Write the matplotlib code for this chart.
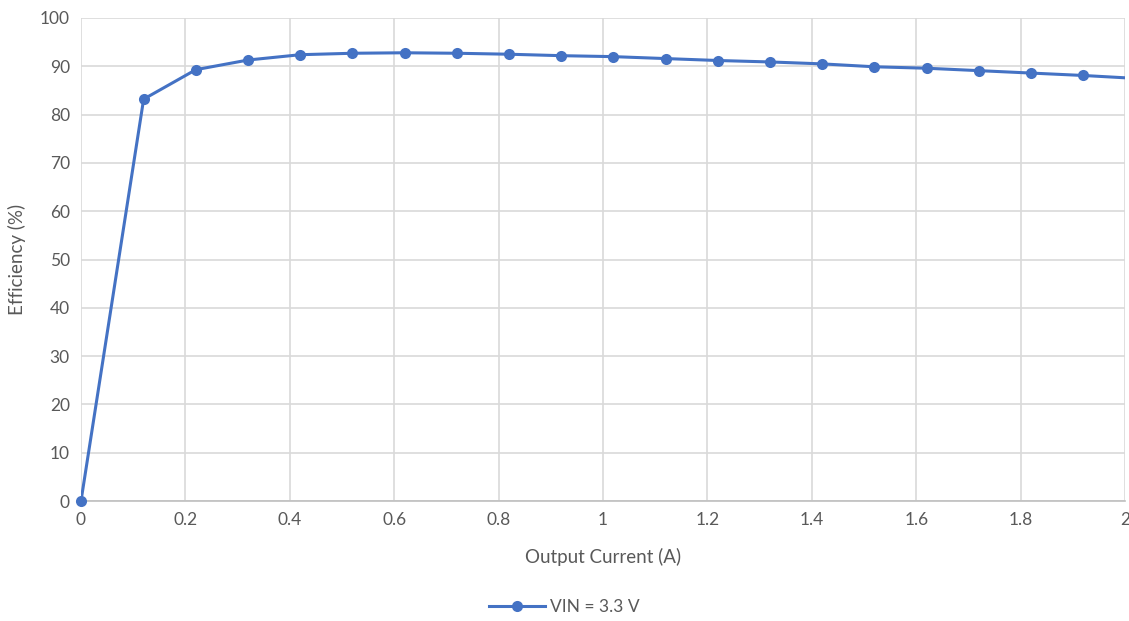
import matplotlib
matplotlib.use("Agg")
from matplotlib import pyplot as plt
from matplotlib.ticker import FuncFormatter

# efficiency vs load current, VIN = 3.3 V
current = [0, 0.12, 0.22, 0.32, 0.42, 0.52, 0.62, 0.72, 0.82, 0.92, 1.02,
           1.12, 1.22, 1.32, 1.42, 1.52, 1.62, 1.72, 1.82, 1.92, 2.02]
efficiency = [0, 83.2, 89.3, 91.3, 92.4, 92.7, 92.8, 92.7, 92.5, 92.2, 92.0,
              91.6, 91.2, 90.9, 90.5, 89.9, 89.6, 89.1, 88.6, 88.1, 87.5]
x_ticks = [0, 0.2, 0.4, 0.6, 0.8, 1.0, 1.2, 1.4, 1.6, 1.8, 2.0]
y_ticks = [0, 10, 20, 30, 40, 50, 60, 70, 80, 90, 100]
series_label = "VIN = 3.3 V"

plt.rcParams['font.family'] = ['Lato', 'DejaVu Sans']
text_col = '#595959'
grid_col = '#d9d9d9'
blue = '#4472C4'

fig = plt.figure(figsize=(11.29, 6.21), dpi=100)
ax = fig.add_axes([81 / 1129, 1 - 501 / 621, (1125 - 81) / 1129, (501 - 18) / 621])

# line clipped at the axis edge, markers only for points inside the range
ax.plot(current, efficiency, color=blue, lw=2.2, zorder=3)
inside = [(c, e) for c, e in zip(current, efficiency) if c <= 2]
ax.plot([c for c, _ in inside], [e for _, e in inside], ls='none', marker='o',
        ms=8, color=blue, markeredgewidth=0, clip_on=False, zorder=4)
handle, = ax.plot([], [], color=blue, lw=2.2, marker='o', ms=8,
                  markeredgewidth=0, label=series_label)

ax.set_xlim(0, 2)
ax.set_ylim(0, 100)
ax.set_xticks(x_ticks)
ax.set_yticks(y_ticks)
ax.xaxis.set_major_formatter(FuncFormatter(lambda v, p: f"{v:g}"))
ax.grid(True, color=grid_col, lw=1.2)
ax.set_axisbelow(True)
for s in ['left', 'right', 'top']:
    ax.spines[s].set_visible(False)
ax.spines['bottom'].set_color('#bfbfbf')
ax.spines['bottom'].set_linewidth(1.2)
ax.tick_params(length=0, colors=text_col, labelsize=12.5, pad=8)

ax.set_xlabel("Output Current (A)", color=text_col, fontsize=13.5, labelpad=14)
ax.set_ylabel("Efficiency (%)", color=text_col, fontsize=13.5, labelpad=10)

fig.legend(handles=[handle], loc='center', bbox_to_anchor=(0.5, 1 - 607 / 621),
           frameon=False, fontsize=12.5, labelcolor=text_col, handlelength=3.2,
           handletextpad=0.3)

fig.savefig("out.png", dpi=100)
